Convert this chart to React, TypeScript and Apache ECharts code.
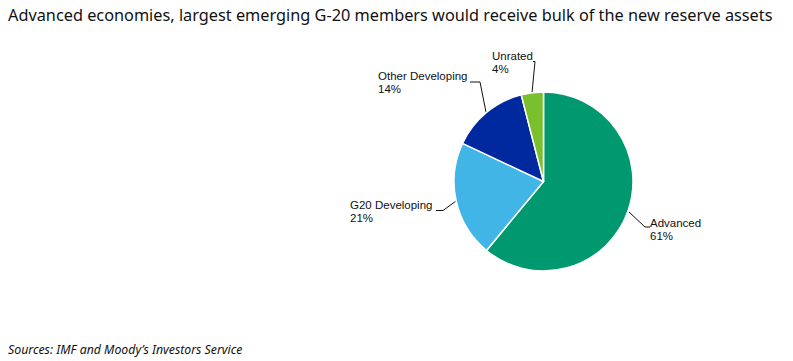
import React, { useEffect, useRef } from "react";
import * as echarts from "echarts";

const categories = ["Advanced", "G20 Developing", "Other Developing", "Unrated"];
const shares = [61, 21, 14, 4];
const colors = ["#00996F", "#41B5E6", "#0029A0", "#79C02C"];

const titleText = "Advanced economies, largest emerging G-20 members would receive bulk of the new reserve assets";
const sourceText = "Sources: IMF and Moody\u2019s Investors Service";

// label placements (layout only)
const labelPos = [
  { x: 650, y: 216, line: [[629, 212], [645, 227], [650, 227]] },
  { x: 350, y: 198, line: [[456, 201], [443, 210.5], [436, 210.5]] },
  { x: 378, y: 69, line: [[486, 112], [480, 82], [470, 82]] },
  { x: 492, y: 49, line: [[532, 93], [535, 61.5], [533, 61.5]] },
];

export default function App() {
  const ref = useRef<HTMLDivElement>(null);
  useEffect(() => {
    document.body.style.margin = "0";
    const chart = echarts.init(ref.current!, null, { renderer: "svg" });
    chart.setOption({
      animation: false,
      backgroundColor: "#ffffff",
      title: [
        {
          text: titleText,
          left: 3,
          top: 2,
          textStyle: { fontFamily: "Noto Sans", fontSize: 16.3, fontWeight: "normal", color: "#111111" },
        },
        {
          text: sourceText,
          left: 3,
          top: 338,
          textStyle: { fontFamily: "Noto Sans", fontSize: 12.3, fontStyle: "italic", fontWeight: "normal", color: "#111111" },
        },
      ],
      series: [
        {
          type: "pie",
          center: [543.5, 181.5],
          radius: [0, 89.5],
          startAngle: 90,
          clockwise: true,
          itemStyle: { borderColor: "#ffffff", borderWidth: 1.5 },
          data: categories.map((name, i) => ({ name, value: shares[i], itemStyle: { color: colors[i] } })),
          label: {
            show: true,
            formatter: "{b}\n{c}%",
            fontFamily: "Liberation Sans",
            fontSize: 11.5,
            lineHeight: 13,
            color: "#111111",
            align: "left",
          },
          labelLine: { show: true, lineStyle: { color: "#111111", width: 1 } },
          labelLayout: (params: any) => {
            const p = labelPos[params.dataIndex];
            return { x: p.x, y: p.y, align: "left", verticalAlign: "top", labelLinePoints: p.line };
          },
          emphasis: { disabled: true },
        },
      ],
    });
    return () => chart.dispose();
  }, []);
  return <div ref={ref} style={{ width: 793, height: 361 }} />;
}
